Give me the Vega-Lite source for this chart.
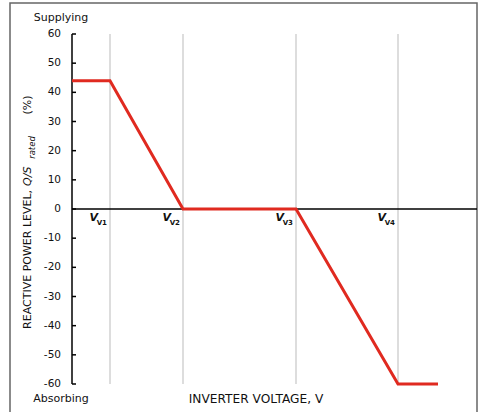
{
  "$schema": "https://vega.github.io/schema/vega-lite/v6.json",
  "width": 405,
  "height": 350,
  "autosize": {"type": "none"},
  "padding": {"left": 72, "top": 34, "right": 3, "bottom": 28},
  "background": "white",
  "config": {
    "view": {"stroke": null},
    "font": "DejaVu Sans",
    "text": {"font": "DejaVu Sans", "color": "#111"}
  },
  "layer": [
    {
      "data": {"values": [{"x0": -62, "x1": 405, "y0": 70.6, "y1": -80}]},
      "mark": {"type": "rect", "fill": null, "stroke": "#666", "strokeWidth": 1.5},
      "encoding": {
        "x": {"field": "x0", "type": "quantitative", "scale": {"domain": [0, 405], "nice": false, "zero": false}, "axis": null},
        "x2": {"field": "x1"},
        "y": {"field": "y0", "type": "quantitative", "scale": {"domain": [-60, 60], "nice": false, "zero": false}, "axis": null},
        "y2": {"field": "y1"}
      }
    },
    {
      "data": {"values": [{"v": 38}, {"v": 111}, {"v": 224}, {"v": 326}]},
      "mark": {"type": "rule", "color": "#bbb", "strokeWidth": 1},
      "encoding": {
        "x": {"field": "v", "type": "quantitative"},
        "y": {"datum": -60, "type": "quantitative"},
        "y2": {"datum": 60}
      }
    },
    {
      "data": {"values": [{"a": 0, "b": 405}]},
      "mark": {"type": "rule", "color": "#000", "strokeWidth": 1.5},
      "encoding": {
        "x": {"field": "a", "type": "quantitative"},
        "x2": {"field": "b"},
        "y": {"datum": 0, "type": "quantitative"}
      }
    },
    {
      "data": {"values": [{"lo": -60, "hi": 60}]},
      "mark": {"type": "rule", "color": "#000", "strokeWidth": 1.5},
      "encoding": {
        "x": {"datum": 0, "type": "quantitative"},
        "y": {"field": "lo", "type": "quantitative"},
        "y2": {"field": "hi"}
      }
    },
    {
      "data": {"values": [
        {"v": -60, "lab": "-60"}, {"v": -50, "lab": "-50"}, {"v": -40, "lab": "-40"},
        {"v": -30, "lab": "-30"}, {"v": -20, "lab": "-20"}, {"v": -10, "lab": "-10"},
        {"v": 0, "lab": "0"}, {"v": 10, "lab": "10"}, {"v": 20, "lab": "20"},
        {"v": 30, "lab": "30"}, {"v": 40, "lab": "40"}, {"v": 50, "lab": "50"},
        {"v": 60, "lab": "60"}
      ]},
      "layer": [
        {
          "mark": {"type": "rule", "color": "#000", "strokeWidth": 1.5},
          "encoding": {
            "x": {"datum": 0, "type": "quantitative"},
            "x2": {"datum": 4},
            "y": {"field": "v", "type": "quantitative"}
          }
        },
        {
          "mark": {"type": "text", "fontSize": 10.5, "align": "right", "baseline": "middle", "dx": -11},
          "encoding": {
            "x": {"datum": 0, "type": "quantitative"},
            "y": {"field": "v", "type": "quantitative"},
            "text": {"field": "lab"}
          }
        }
      ]
    },
    {
      "data": {"values": [
        {"x": 0, "q": 44}, {"x": 38, "q": 44}, {"x": 111, "q": 0},
        {"x": 224, "q": 0}, {"x": 326, "q": -60}, {"x": 366, "q": -60}
      ]},
      "mark": {"type": "line", "color": "#e02a20", "strokeWidth": 3},
      "encoding": {
        "x": {"field": "x", "type": "quantitative"},
        "y": {"field": "q", "type": "quantitative"}
      }
    },
    {
      "data": {"values": [{"v": 38}, {"v": 111}, {"v": 224}, {"v": 326}]},
      "mark": {"type": "text", "text": "V", "fontStyle": "italic", "fontWeight": "bold", "fontSize": 11, "align": "right", "baseline": "alphabetic", "dx": -12, "dy": 12},
      "encoding": {
        "x": {"field": "v", "type": "quantitative"},
        "y": {"datum": 0, "type": "quantitative"}
      }
    },
    {
      "data": {"values": [{"v": 38, "s": "V1"}, {"v": 111, "s": "V2"}, {"v": 224, "s": "V3"}, {"v": 326, "s": "V4"}]},
      "mark": {"type": "text", "fontWeight": "bold", "fontSize": 7, "align": "right", "baseline": "alphabetic", "dx": -3, "dy": 16},
      "encoding": {
        "x": {"field": "v", "type": "quantitative"},
        "y": {"datum": 0, "type": "quantitative"},
        "text": {"field": "s"}
      }
    },
    {
      "data": {"values": [
        {"t": "Supplying", "x": -11, "y": 65.5},
        {"t": "Absorbing", "x": -11, "y": -65.1}
      ]},
      "mark": {"type": "text", "fontSize": 11, "align": "center", "baseline": "middle"},
      "encoding": {
        "x": {"field": "x", "type": "quantitative"},
        "y": {"field": "y", "type": "quantitative"},
        "text": {"field": "t"}
      }
    },
    {
      "data": {"values": [{"t": "INVERTER VOLTAGE, V", "x": 184, "y": -65.1}]},
      "mark": {"type": "text", "fontSize": 12.2, "align": "center", "baseline": "middle"},
      "encoding": {
        "x": {"field": "x", "type": "quantitative"},
        "y": {"field": "y", "type": "quantitative"},
        "text": {"field": "t"}
      }
    },
    {
      "data": {"values": [{"t": "REACTIVE POWER LEVEL,", "x": -44, "y": -41.1}, {"t": "(%)", "x": -44, "y": 32.4}]},
      "mark": {"type": "text", "fontSize": 11, "angle": 270, "align": "left", "baseline": "middle"},
      "encoding": {
        "x": {"field": "x", "type": "quantitative"},
        "y": {"field": "y", "type": "quantitative"},
        "text": {"field": "t"}
      }
    },
    {
      "data": {"values": [{"t": "Q/S", "x": -44, "y": 7.9}]},
      "mark": {"type": "text", "fontSize": 11, "fontStyle": "italic", "angle": 270, "align": "left", "baseline": "middle"},
      "encoding": {
        "x": {"field": "x", "type": "quantitative"},
        "y": {"field": "y", "type": "quantitative"},
        "text": {"field": "t"}
      }
    },
    {
      "data": {"values": [{"t": "rated", "x": -40, "y": 17.2}]},
      "mark": {"type": "text", "fontSize": 8.5, "fontStyle": "italic", "angle": 270, "align": "left", "baseline": "middle"},
      "encoding": {
        "x": {"field": "x", "type": "quantitative"},
        "y": {"field": "y", "type": "quantitative"},
        "text": {"field": "t"}
      }
    }
  ]
}
